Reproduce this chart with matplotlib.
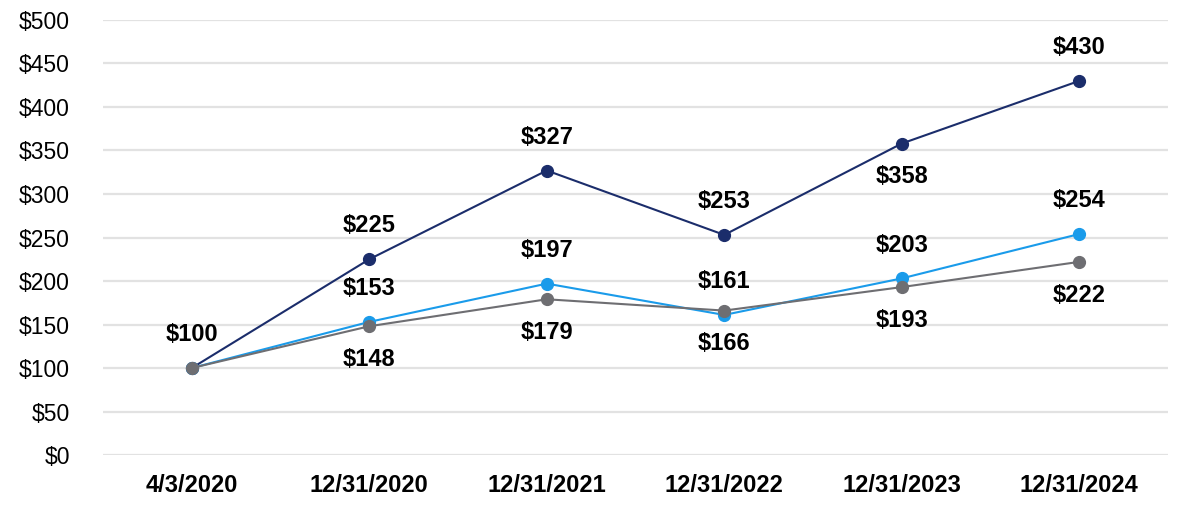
import matplotlib
matplotlib.use("Agg")
import matplotlib.pyplot as plt
from matplotlib.ticker import FuncFormatter

plt.rcParams["font.family"] = ["Liberation Sans", "DejaVu Sans"]

# data
dates = ["4/3/2020", "12/31/2020", "12/31/2021", "12/31/2022", "12/31/2023", "12/31/2024"]
navy_vals = [100, 225, 327, 253, 358, 430]
blue_vals = [100, 153, 197, 161, 203, 254]
gray_vals = [100, 148, 179, 166, 193, 222]

# label placement per point: +1 above, -1 below, 0 none
navy_pos = [0, 1, 1, 1, -1, 1]
blue_pos = [0, 1, 1, 1, 1, 1]
gray_pos = [1, -1, -1, -1, -1, -1]

series = [
    (navy_vals, navy_pos, "#1B2D6B"),
    (blue_vals, blue_pos, "#1A9BEA"),
    (gray_vals, gray_pos, "#6E6E72"),
]

fig = plt.figure(figsize=(11.9, 5.18), dpi=100)
ax = fig.add_axes([0.0866, 0.1216, 0.8949, 0.8398])

x = list(range(len(dates)))
for vals, pos, color in series:
    ax.plot(x, vals, color=color, linewidth=1.5, marker="o", markersize=8.5, zorder=3)
    for xi, v, p in zip(x, vals, pos):
        if p == 0:
            continue
        ax.annotate(f"${v}", (xi, v), xytext=(0, 24 * p), textcoords="offset points",
                    ha="center", va="center", fontsize=17, fontweight="bold", color="black")

ax.set_xlim(-0.5, len(dates) - 0.5)
ax.set_ylim(0, 500)
ax.set_yticks(range(0, 501, 50))
ax.yaxis.set_major_formatter(FuncFormatter(lambda v, _: f"${v:.0f}"))
ax.set_xticks(x)
ax.set_xticklabels(dates, fontweight="bold", fontsize=17)

ax.tick_params(axis="y", length=0, pad=24, labelsize=16.5)
ax.tick_params(axis="x", length=0, pad=14)
ax.grid(axis="y", color="#E2E2E2", linewidth=1.6)
ax.set_axisbelow(True)
for s in ax.spines.values():
    s.set_visible(False)

fig.savefig("out.png", dpi=100)
